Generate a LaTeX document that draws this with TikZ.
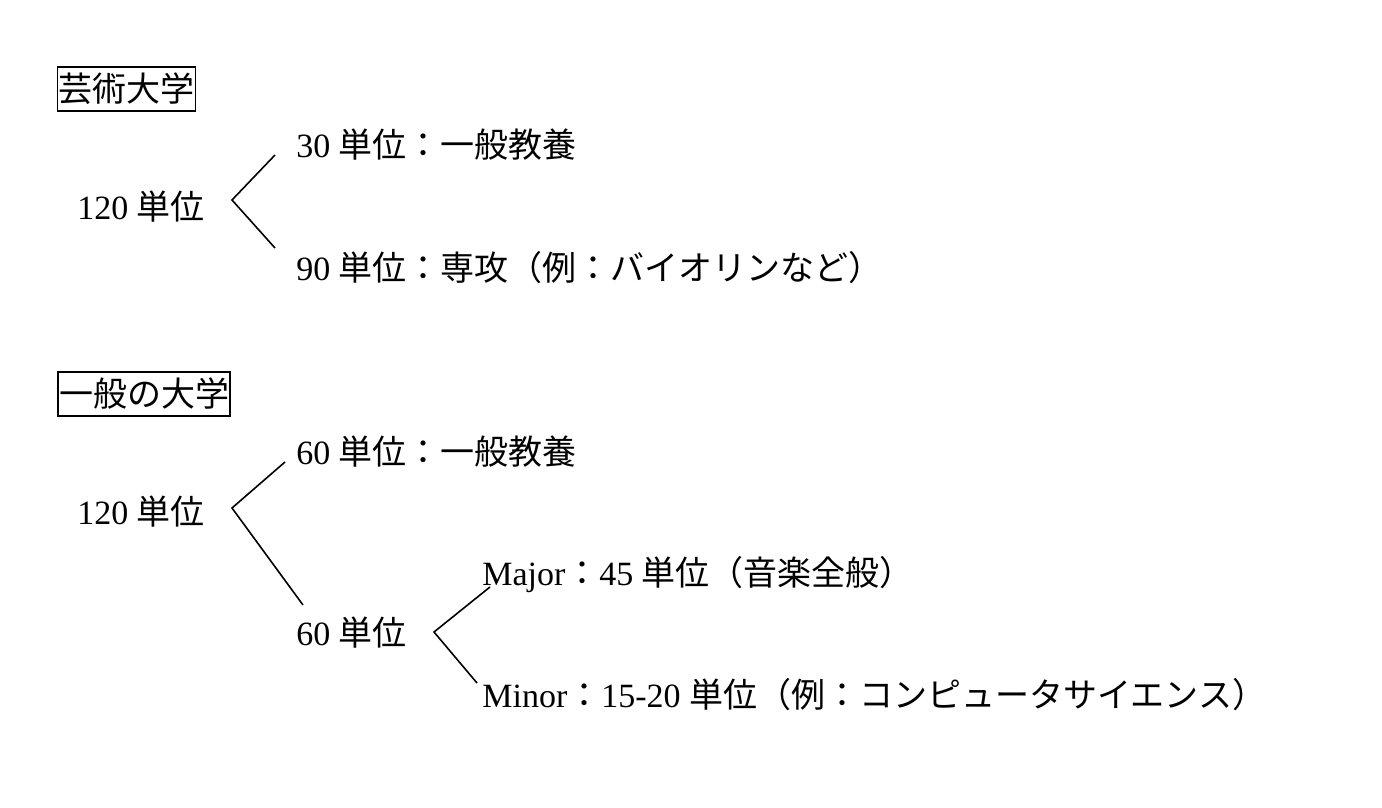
\documentclass[tikz,border=0pt]{standalone}
\usepackage{fontspec}
\setmainfont{Liberation Serif}
\newfontfamily\cjk{Noto Sans CJK JP}
\newcommand{\J}[1]{{\cjk #1}}
\tikzset{
  txt/.style={anchor=base west, inner sep=0pt, font=\fontsize{17pt}{20pt}\selectfont},
  headbox/.style={draw, line width=0.8pt, inner xsep=0.5pt, inner ysep=0pt, minimum height=22pt, font=\fontsize{17pt}{20pt}\selectfont},
  link/.style={line width=0.8pt}
}
\begin{document}
\begin{tikzpicture}[x=0.5pt,y=-0.5pt]
\useasboundingbox (0,0) rectangle (1382,808);
% Section 1
\node[headbox] (h1) at (126.5,89) {\J{芸術大学}};
\node[txt] (a0) at (77,220) {120 \J{単位}};
\node[txt] (a1) at (296,158) {30 \J{単位：一般教養}};
\node[txt] (a2) at (296,280) {90 \J{単位：専攻（例：バイオリンなど）}};
\coordinate (ap1) at (232,200);
\coordinate (ae1) at (275,155);
\coordinate (ae2) at (275,248);
\draw[link] (ae1) -- (ap1) -- (ae2);
% Section 2
\node[headbox] (h2) at (144,394) {\J{一般の大学}};
\node[txt] (b0) at (77,524) {120 \J{単位}};
\node[txt] (b1) at (296,464) {60 \J{単位：一般教養}};
\node[txt] (b2) at (296,645) {60 \J{単位}};
\node[txt] (c1) at (482,585) {Major\J{：}45 \J{単位（音楽全般）}};
\node[txt] (c2) at (482,707) {Minor\J{：}15-20 \J{単位（例：コンピュータサイエンス）}};
\coordinate (ap2) at (232,508);
\coordinate (be1) at (285,462);
\coordinate (be2) at (303,605);
\draw[link] (be1) -- (ap2) -- (be2);
\coordinate (ap3) at (434,632);
\coordinate (ce1) at (490,587);
\coordinate (ce2) at (477,683);
\draw[link] (ce1) -- (ap3) -- (ce2);
\end{tikzpicture}
\end{document}
